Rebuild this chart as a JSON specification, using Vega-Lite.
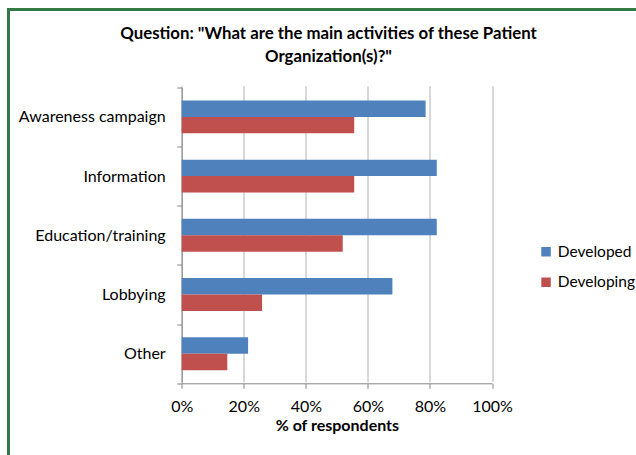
{
  "$schema": "https://vega.github.io/schema/vega-lite/v6.json",
  "autosize": {"type": "none"},
  "padding": {"left": 8.5, "top": 9.5, "right": 0, "bottom": 0},
  "width": 640,
  "height": 450,
  "background": "white",
  "title": {
    "text": ["Question: \"What are the main activities of these Patient", "Organization(s)?\""],
    "font": "Lato",
    "fontSize": 16.8,
    "fontWeight": "bold",
    "color": "#000000",
    "anchor": "middle",
    "frame": "group",
    "baseline": "top",
    "lineHeight": 23,
    "offset": -64
  },
  "data": {
    "values": [
      {"activity": "Awareness campaign", "group": "Developed", "share": 0.786},
      {"activity": "Awareness campaign", "group": "Developing", "share": 0.556},
      {"activity": "Information", "group": "Developed", "share": 0.822},
      {"activity": "Information", "group": "Developing", "share": 0.556},
      {"activity": "Education/training", "group": "Developed", "share": 0.822},
      {"activity": "Education/training", "group": "Developing", "share": 0.519},
      {"activity": "Lobbying", "group": "Developed", "share": 0.679},
      {"activity": "Lobbying", "group": "Developing", "share": 0.259},
      {"activity": "Other", "group": "Developed", "share": 0.214},
      {"activity": "Other", "group": "Developing", "share": 0.147}
    ]
  },
  "mark": {"type": "bar"},
  "encoding": {
    "y": {
      "field": "activity",
      "type": "nominal",
      "sort": null,
      "scale": {"range": [77.8, 373.8], "paddingInner": 0, "paddingOuter": 0},
      "axis": {
        "title": null,
        "orient": "left",
        "offset": -173.2,
        "tickBand": "extent",
        "domainColor": "#868686",
        "tickColor": "#868686",
        "tickSize": 5,
        "labelPadding": 11.5,
        "labelFont": "Lato",
        "labelFontSize": 16,
        "labelColor": "#000000",
        "grid": false
      }
    },
    "yOffset": {
      "field": "group",
      "type": "nominal",
      "scale": {"paddingInner": 0, "paddingOuter": 0.8}
    },
    "x": {
      "field": "share",
      "type": "quantitative",
      "scale": {"domain": [0, 1], "nice": false, "range": [173.2, 483.5]},
      "axis": {
        "title": "% of respondents",
        "orient": "bottom",
        "offset": -76.2,
        "values": [0, 0.2, 0.4, 0.6, 0.8, 1],
        "format": ".0%",
        "labelFlush": false,
        "labelOverlap": false,
        "domainColor": "#868686",
        "tickColor": "#868686",
        "tickSize": 5,
        "labelPadding": 10,
        "labelFont": "Lato",
        "labelFontSize": 16,
        "labelColor": "#000000",
        "titleFont": "Lato",
        "titleFontSize": 16,
        "titleFontWeight": "bold",
        "titleColor": "#000000",
        "titlePadding": 3,
        "grid": true,
        "gridColor": "#b0b0b0",
        "gridWidth": 1
      }
    },
    "color": {
      "field": "group",
      "type": "nominal",
      "scale": {"domain": ["Developed", "Developing"], "range": ["#4F81BD", "#C0504D"]},
      "legend": {
        "title": null,
        "orient": "none",
        "legendX": 529.8,
        "legendY": 234.5,
        "symbolType": "square",
        "symbolSize": 90,
        "symbolStrokeWidth": 0,
        "symbolOpacity": 1,
        "labelFont": "Lato",
        "labelFontSize": 15.5,
        "labelColor": "#000000",
        "labelOffset": 4,
        "rowPadding": 13.5,
        "padding": 0
      }
    }
  },
  "config": {
    "view": {"stroke": "#337a46", "strokeWidth": 3, "fill": "white"}
  }
}
